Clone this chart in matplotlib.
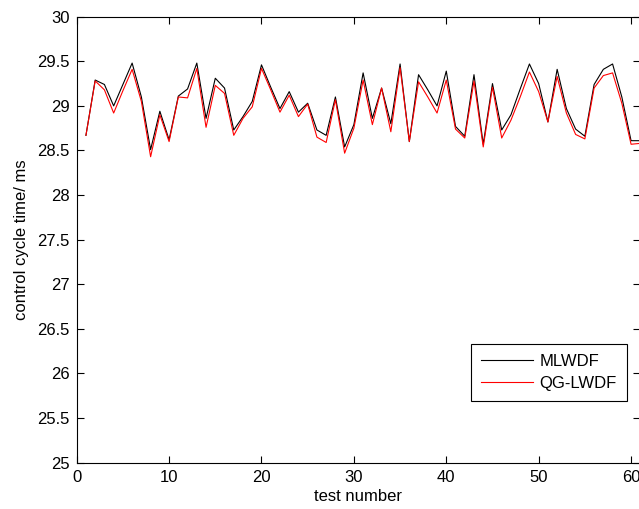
import numpy as np
import matplotlib
matplotlib.use('Agg')
import matplotlib.pyplot as plt

matplotlib.rcParams['font.family'] = ['Liberation Sans', 'DejaVu Sans']

test_no = np.arange(1, 62)
mlwdf = [28.67, 29.29, 29.24, 29.00, 29.24, 29.48, 29.10, 28.51, 28.94, 28.62,
         29.11, 29.19, 29.48, 28.86, 29.31, 29.20, 28.73, 28.88, 29.05, 29.46,
         29.21, 28.97, 29.16, 28.93, 29.03, 28.73, 28.67, 29.10, 28.54, 28.79,
         29.37, 28.86, 29.20, 28.80, 29.47, 28.60, 29.35, 29.18, 29.00, 29.39,
         28.77, 28.66, 29.35, 28.57, 29.25, 28.73, 28.90, 29.19, 29.47, 29.25,
         28.82, 29.41, 28.97, 28.74, 28.66, 29.24, 29.41, 29.47, 29.10, 28.61,
         28.61]
qg_lwdf = [28.67, 29.28, 29.18, 28.92, 29.17, 29.41, 29.05, 28.43, 28.90, 28.60,
           29.10, 29.09, 29.42, 28.76, 29.23, 29.14, 28.67, 28.86, 28.99, 29.42,
           29.18, 28.93, 29.12, 28.88, 29.02, 28.65, 28.59, 29.07, 28.47, 28.75,
           29.29, 28.79, 29.20, 28.71, 29.43, 28.60, 29.27, 29.10, 28.92, 29.29,
           28.74, 28.64, 29.28, 28.54, 29.21, 28.64, 28.84, 29.10, 29.38, 29.16,
           28.82, 29.33, 28.92, 28.68, 28.63, 29.20, 29.34, 29.37, 29.03, 28.57,
           28.58]

xticks = [0, 10, 20, 30, 40, 50, 60]
yticks = [25, 25.5, 26, 26.5, 27, 27.5, 28, 28.5, 29, 29.5, 30]
ytick_labels = ['25', '25.5', '26', '26.5', '27', '27.5', '28', '28.5', '29', '29.5', '30']

W, H = 639, 509
fig = plt.figure(figsize=(W / 100, H / 100), dpi=100)
# right edge of the box sits just past the canvas, as in the reference
x0, x1, ytop, ybot = 76.7, 640.3, 16.7, 462.7
ax = fig.add_axes([x0 / W, 1 - ybot / H, (x1 - x0) / W, (ybot - ytop) / H])

ax.plot(test_no, mlwdf, color='k', lw=0.8, label='MLWDF')
ax.plot(test_no, qg_lwdf, color='r', lw=0.8, label='QG-LWDF')

ax.set_xlim(0, 61)
ax.set_ylim(25, 30)
ax.set_xticks(xticks)
ax.set_yticks(yticks)
ax.set_yticklabels(ytick_labels)
ax.tick_params(direction='in', length=5, width=0.8, labelsize=12,
               top=True, right=True, pad=5)
for s in ax.spines.values():
    s.set_linewidth(0.8)

ax.set_xlabel('test number', fontsize=12, labelpad=3)
ax.set_ylabel('control cycle time/ ms', fontsize=12, labelpad=6)

leg = ax.legend(loc='upper left', bbox_to_anchor=(471 / W, 1 - 344 / H),
                bbox_transform=fig.transFigure, fontsize=12, frameon=True,
                fancybox=False, edgecolor='k', framealpha=1, borderaxespad=0,
                handlelength=3.1, handletextpad=0.4, labelspacing=0.4,
                borderpad=0.6)
leg.get_frame().set_linewidth(0.8)

plt.savefig('out.png', dpi=100)
plt.close()
